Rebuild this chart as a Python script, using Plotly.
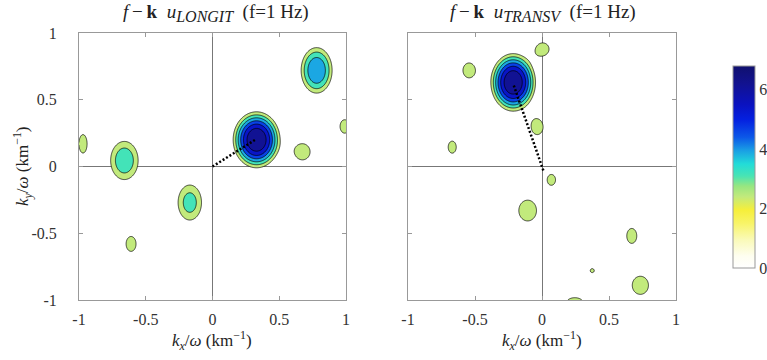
import numpy as np
import plotly.graph_objects as go

# ---------------- data ----------------
# Left panel (u_LONGIT): spectral peaks
L_kx = [0.33, 0.78, -0.66, -0.17, -0.61, -0.97, 0.99, 0.675]
L_ky = [0.20, 0.72, 0.045, -0.27, -0.58, 0.17, 0.30, 0.11]
L_amp = [6.8, 4.5, 3.6, 3.4, 2.8, 2.8, 2.8, 2.8]
L_sx = [0.122, 0.098, 0.103, 0.093, 0.054, 0.044, 0.05, 0.081]
L_sy = [0.146, 0.144, 0.143, 0.139, 0.081, 0.10, 0.073, 0.087]

# Right panel (u_TRANSV): spectral peaks
R_kx = [-0.215, -0.545, 0.007, -0.035, 0.07, -0.107, -0.67, 0.67, 0.734, 0.375, 0.245]
R_ky = [0.63, 0.72, 0.88, 0.295, -0.10, -0.33, 0.145, -0.52, -0.89, -0.78, -1.02]
R_amp = [6.8, 2.8, 2.8, 2.8, 2.7, 3.0, 2.6, 2.7, 2.9, 2.45, 2.7]
R_sx = [0.116, 0.065, 0.065, 0.062, 0.05, 0.083, 0.056, 0.06, 0.081, 0.047, 0.10]
R_sy = [0.15, 0.08, 0.065, 0.081, 0.065, 0.098, 0.084, 0.09, 0.091, 0.047, 0.06]

# dotted direction lines
L_line_x = [0.0, 0.32]
L_line_y = [0.0, 0.20]
R_line_x = [0.01, -0.215]
R_line_y = [-0.03, 0.62]

# contour levels
lev_start, lev_end, lev_step = 2.4, 6.15, 0.75

# colour map (value -> colour)
cmap_vals = [0, 0.4, 0.95, 1.5, 1.95, 2.4, 2.75, 3.1, 3.5, 3.95, 4.4, 5.0, 5.5, 6.2, 6.8]
cmap_cols = ['#ffffff', '#fefef0', '#fafab8', '#f8f468', '#f6ef3a', '#c2ea7c',
             '#98e680', '#48e4b4', '#22dcd8', '#1aa0e4', '#0c58e8', '#0420e0',
             '#0a12c0', '#121290', '#10106e']
cmin, cmax = 0.0, 6.8

x_ticks = [-1, -0.5, 0, 0.5, 1]
x_tick_text = ['-1', '-0.5', '0', '0.5', '1']
cbar_ticks = [0, 2, 4, 6]

# ---------------- build fields ----------------
grid = np.linspace(-1, 1, 401)
X, Y = np.meshgrid(grid, grid)


def field(kx, ky, amp, sx, sy, p=1.3):
    Z = np.zeros_like(X)
    for a, b, A, s1, s2 in zip(kx, ky, amp, sx, sy):
        q = 0.5 * (((X - a) / s1) ** 2 + ((Y - b) / s2) ** 2)
        Z += A * np.exp(-q ** p)
    return Z


ZL = field(L_kx, L_ky, L_amp, L_sx, L_sy)
ZR = field(R_kx, R_ky, R_amp, R_sx, R_sy)


def hex2rgb(h):
    h = h.lstrip('#')
    return np.array([int(h[i:i + 2], 16) for i in (0, 2, 4)], float)


def cmap_at(v):
    rgbs = np.array([hex2rgb(c) for c in cmap_cols])
    r = [np.interp(v, cmap_vals, rgbs[:, i]) for i in range(3)]
    return 'rgb(%d,%d,%d)' % tuple(int(round(c)) for c in r)


levels = np.arange(lev_start, lev_end + 1e-9, lev_step)
nc = len(levels)
band_cols = ['rgba(255,255,255,0)'] + [cmap_at(l) for l in levels]
step_scale = []
for k, c in enumerate(band_cols):
    lo = max(0.0, (k - 0.5) / nc)
    hi = min(1.0, (k + 0.5) / nc)
    step_scale.append([lo, c])
    step_scale.append([hi, c])

cont_scale = [[(v - cmin) / (cmax - cmin), c] for v, c in zip(cmap_vals, cmap_cols)]

W, H = 767, 360
FONT = 'Liberation Serif, Times New Roman, serif'


def px_x(p):
    return p / W


def px_y(p):
    return 1 - p / H


fig = go.Figure()

for Z, xa, ya in [(ZL, 'x', 'y'), (ZR, 'x2', 'y2')]:
    fig.add_trace(go.Contour(
        x=grid, y=grid, z=Z, xaxis=xa, yaxis=ya,
        contours=dict(start=lev_start, end=lev_end, size=lev_step, coloring='fill'),
        colorscale=step_scale, zauto=False,
        zmin=lev_start - lev_step / 2, zmax=lev_start + (nc - 1) * lev_step + lev_step / 2,
        line=dict(color='black', width=0.7), showscale=False, hoverinfo='skip'))

fig.add_trace(go.Scatter(x=L_line_x, y=L_line_y, xaxis='x', yaxis='y', mode='lines',
                         line=dict(color='black', width=2.5, dash='2px,2px'),
                         hoverinfo='skip', showlegend=False))
fig.add_trace(go.Scatter(x=R_line_x, y=R_line_y, xaxis='x2', yaxis='y2', mode='lines',
                         line=dict(color='black', width=2.5, dash='2px,2px'),
                         hoverinfo='skip', showlegend=False))

# continuous colour bar
fig.add_trace(go.Scatter(
    x=[0], y=[0], xaxis='x2', yaxis='y2', mode='markers', showlegend=False, hoverinfo='skip',
    marker=dict(size=1, opacity=0, color=[0], colorscale=cont_scale, cmin=cmin, cmax=cmax,
                showscale=True,
                colorbar=dict(x=px_x(733), xanchor='left', y=px_y(167), yanchor='middle',
                              len=202 / H, lenmode='fraction', thickness=22, thicknessmode='pixels',
                              xpad=0, ypad=0, outlinewidth=1, outlinecolor='#999',
                              tickvals=cbar_ticks, ticks='',
                              tickfont=dict(family=FONT, size=16, color='#333')))))

axis_common = dict(range=[-1, 1], showgrid=False, zeroline=True, zerolinecolor='#777',
                   zerolinewidth=1, showline=True, mirror='ticks', linecolor='#999', linewidth=1,
                   ticks='inside', ticklen=4, tickcolor='#999', automargin=False,
                   tickvals=x_ticks, ticktext=x_tick_text,
                   tickfont=dict(family=FONT, size=16, color='#333'))

fig.update_layout(
    width=W, height=H, margin=dict(l=0, r=0, t=0, b=0, autoexpand=False),
    paper_bgcolor='white', plot_bgcolor='white', showlegend=False,
    font=dict(family=FONT),
    xaxis=dict(domain=[px_x(79), px_x(346)], anchor='y', ticklabelstandoff=5, **axis_common),
    yaxis=dict(domain=[px_y(300), px_y(33)], anchor='x', ticklabelstandoff=18, **axis_common),
    xaxis2=dict(domain=[px_x(408), px_x(676)], anchor='y2', ticklabelstandoff=5, **axis_common),
    yaxis2=dict(domain=[px_y(300), px_y(33)], anchor='x2', showticklabels=False, **axis_common),
)

title_font = dict(family=FONT, size=19, color='#222')
lab_font = dict(family=FONT, size=17, color='#222')
common_ann = dict(xref='paper', yref='paper', showarrow=False,
                  xanchor='center', yanchor='middle')
sub_style = 'font-size:16px'
annotations = [
    dict(text='<i>f</i>\u2009\u2212\u2009<b>k</b>\u00a0\u00a0<i>u</i><sub><span style="%s"><i>LONGIT</i></span></sub>\u00a0\u00a0(f=1 Hz)' % sub_style,
         x=px_x(216), y=px_y(13), font=title_font, **common_ann),
    dict(text='<i>f</i>\u2009\u2212\u2009<b>k</b>\u00a0\u00a0<i>u</i><sub><span style="%s"><i>TRANSV</i></span></sub>\u00a0\u00a0(f=1 Hz)' % sub_style,
         x=px_x(543), y=px_y(13), font=title_font, **common_ann),
    dict(text='<i>k<sub>x</sub></i>/<i>\u03c9</i> (km<sup>\u22121</sup>)',
         x=px_x(212), y=px_y(340), font=lab_font, **common_ann),
    dict(text='<i>k<sub>x</sub></i>/<i>\u03c9</i> (km<sup>\u22121</sup>)',
         x=px_x(542), y=px_y(340), font=lab_font, **common_ann),
    dict(text='<i>k<sub>y</sub></i>/<i>\u03c9</i> (km<sup>\u22121</sup>)', textangle=-90,
         x=px_x(22), y=px_y(166), font=lab_font, **common_ann),
]
fig.update_layout(annotations=annotations)

fig.write_html('out.html', config={'displayModeBar': False, 'staticPlot': True},
               post_script="document.body.style.margin='0';document.body.style.overflow='hidden';")
